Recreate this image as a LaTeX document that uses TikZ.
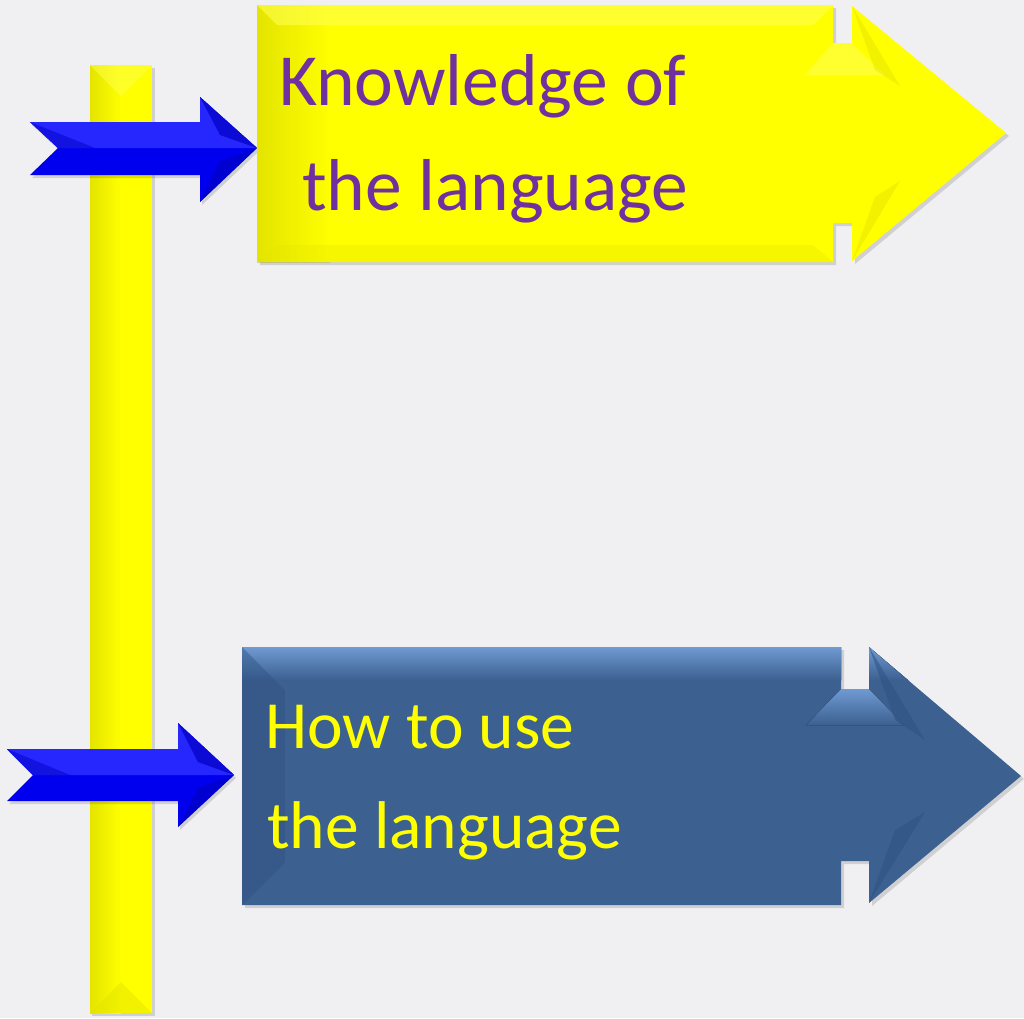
\documentclass[tikz,border=0pt]{standalone}
\usepackage{fontspec}
\setmainfont{Carlito}
\definecolor{bgc}{HTML}{F0F0F2}
\definecolor{yel}{HTML}{FFFF00}
\definecolor{yeldark}{HTML}{E4E400}
\definecolor{yellight}{HTML}{FFFF50}
\definecolor{purp}{HTML}{7030A0}
\definecolor{boxblue}{HTML}{3C6090}
\definecolor{boxbluedark}{HTML}{2F5283}
\definecolor{boxbluelight}{HTML}{6F9AD2}
\definecolor{arrblue}{HTML}{0000EE}
\definecolor{arrbluelight}{HTML}{2626FF}
\definecolor{arrbluedark}{HTML}{0000C4}
\tikzset{
  shadowfill/.style={fill=black,opacity=0.13},
  ytext/.style={text=purp,inner sep=0pt,anchor=base west,font=\fontsize{73.5}{73.5}\selectfont},
  btext/.style={text=yel,inner sep=0pt,anchor=base west,font=\fontsize{67.5}{67.5}\selectfont},
}
\begin{document}
\begin{tikzpicture}[x=1pt,y=-1pt]
\useasboundingbox (0,0) rectangle (1024,1018);
\fill[bgc] (0,0) rectangle (1024,1018);

% ---------- vertical yellow bar ----------
\fill[shadowfill] (92,68) rectangle (155,1016);
\coordinate (barTop) at (121,65);
\coordinate (barBot) at (121,1013);
\fill[left color=yeldark,right color=yel] (90,65) rectangle (121,1013);
\fill[yel] (121,65) rectangle (152,1013);
\fill[yellight,opacity=0.5] (90,65) -- (152,65) -- (121,96) -- cycle;
\fill[yeldark,opacity=0.5] (90,1013) -- (152,1013) -- (121,982) -- cycle;

% ---------- blue arrows ----------
\coordinate (a1tail) at (30,148);
\coordinate (a2tail) at (7,775);
\fill[shadowfill] (32,125) -- (202,125) -- (202,100) -- (259,151) -- (202,205) -- (202,178) -- (32,178) -- (60,151) -- cycle;
\fill[arrblue] (30,122) -- (200,122) -- (200,97) -- (257,148) -- (200,202) -- (200,175) -- (30,175) -- (58,148) -- cycle;
\fill[arrbluelight] (30,122) -- (200,122) -- (200,97) -- (257,148) -- (58,148) -- cycle;
\fill[arrbluedark,opacity=0.7] (200,97) -- (220,135) -- (257,148) -- cycle;
\fill[arrbluedark,opacity=0.7] (200,202) -- (220,161) -- (257,148) -- cycle;
\fill[arrbluedark,opacity=0.5] (30,122) -- (58,148) -- (95,148) -- cycle;

\fill[shadowfill] (9,752) -- (180,752) -- (180,726) -- (236,778) -- (180,830) -- (180,804) -- (9,804) -- (35,778) -- cycle;
\fill[arrblue] (7,749) -- (178,749) -- (178,723) -- (234,775) -- (178,827) -- (178,801) -- (7,801) -- (33,775) -- cycle;
\fill[arrbluelight] (7,749) -- (178,749) -- (178,723) -- (234,775) -- (33,775) -- cycle;
\fill[arrbluedark,opacity=0.7] (178,723) -- (198,762) -- (234,775) -- cycle;
\fill[arrbluedark,opacity=0.7] (178,827) -- (198,788) -- (234,775) -- cycle;
\fill[arrbluedark,opacity=0.5] (7,749) -- (33,775) -- (70,775) -- cycle;

% ---------- yellow box arrow ----------
\fill[shadowfill] (260,8) -- (836,8) -- (836,46) -- (855,46) -- (855,9) -- (1009,136) -- (855,264) -- (855,226) -- (836,226) -- (836,265) -- (260,265) -- cycle;
\begin{scope}
\clip (257,5) -- (833,5) -- (833,43) -- (852,43) -- (852,6) -- (1006,133) -- (852,261) -- (852,223) -- (833,223) -- (833,262) -- (257,262) -- cycle;
\fill[yel] (250,0) rectangle (1010,270);
\fill[left color=yeldark,right color=yel] (257,0) rectangle (330,270);
\fill[yellight,opacity=0.6] (257,5) -- (833,5) -- (813,25) -- (277,25) -- cycle;
\fill[yellight,opacity=0.6] (805,75) -- (833,43) -- (852,43) -- (885,75) -- cycle;
\fill[yeldark,opacity=0.45] (852,6) -- (875,70) -- (900,86) -- cycle;
\fill[yeldark,opacity=0.45] (852,261) -- (875,197) -- (900,181) -- cycle;
\fill[yeldark,opacity=0.3] (257,262) -- (833,262) -- (813,245) -- (277,245) -- cycle;
\end{scope}
\node[ytext] (k1) at (279,105) {Knowledge of};
\node[ytext] (k2) at (302,210) {the language};

% ---------- blue box arrow ----------
\fill[shadowfill] (245,650) -- (844,650) -- (844,692) -- (872,692) -- (872,650) -- (1024,779) -- (872,906) -- (872,864) -- (844,864) -- (844,908) -- (245,908) -- cycle;
\begin{scope}
\clip (242,647) -- (841,647) -- (841,689) -- (869,689) -- (869,647) -- (1021,776) -- (869,903) -- (869,861) -- (841,861) -- (841,905) -- (242,905) -- cycle;
\fill[boxblue] (240,640) rectangle (1024,910);
\fill[top color=boxbluelight,bottom color=boxblue] (240,647) rectangle (1024,680);
\fill[top color=boxbluelight,bottom color=boxblue] (806,725) -- (841,689) -- (869,689) -- (904,725) -- cycle;
\fill[boxbluedark,opacity=0.55] (869,647) -- (895,720) -- (925,740) -- cycle;
\fill[boxbluedark,opacity=0.55] (869,903) -- (895,830) -- (925,812) -- cycle;
\fill[boxbluedark,opacity=0.45] (242,647) -- (285,690) -- (285,862) -- (242,905) -- cycle;
\end{scope}
\node[btext] (h1) at (265,748) {How to use};
\node[btext] (h2) at (267,848) {the language};
\end{tikzpicture}
\end{document}
